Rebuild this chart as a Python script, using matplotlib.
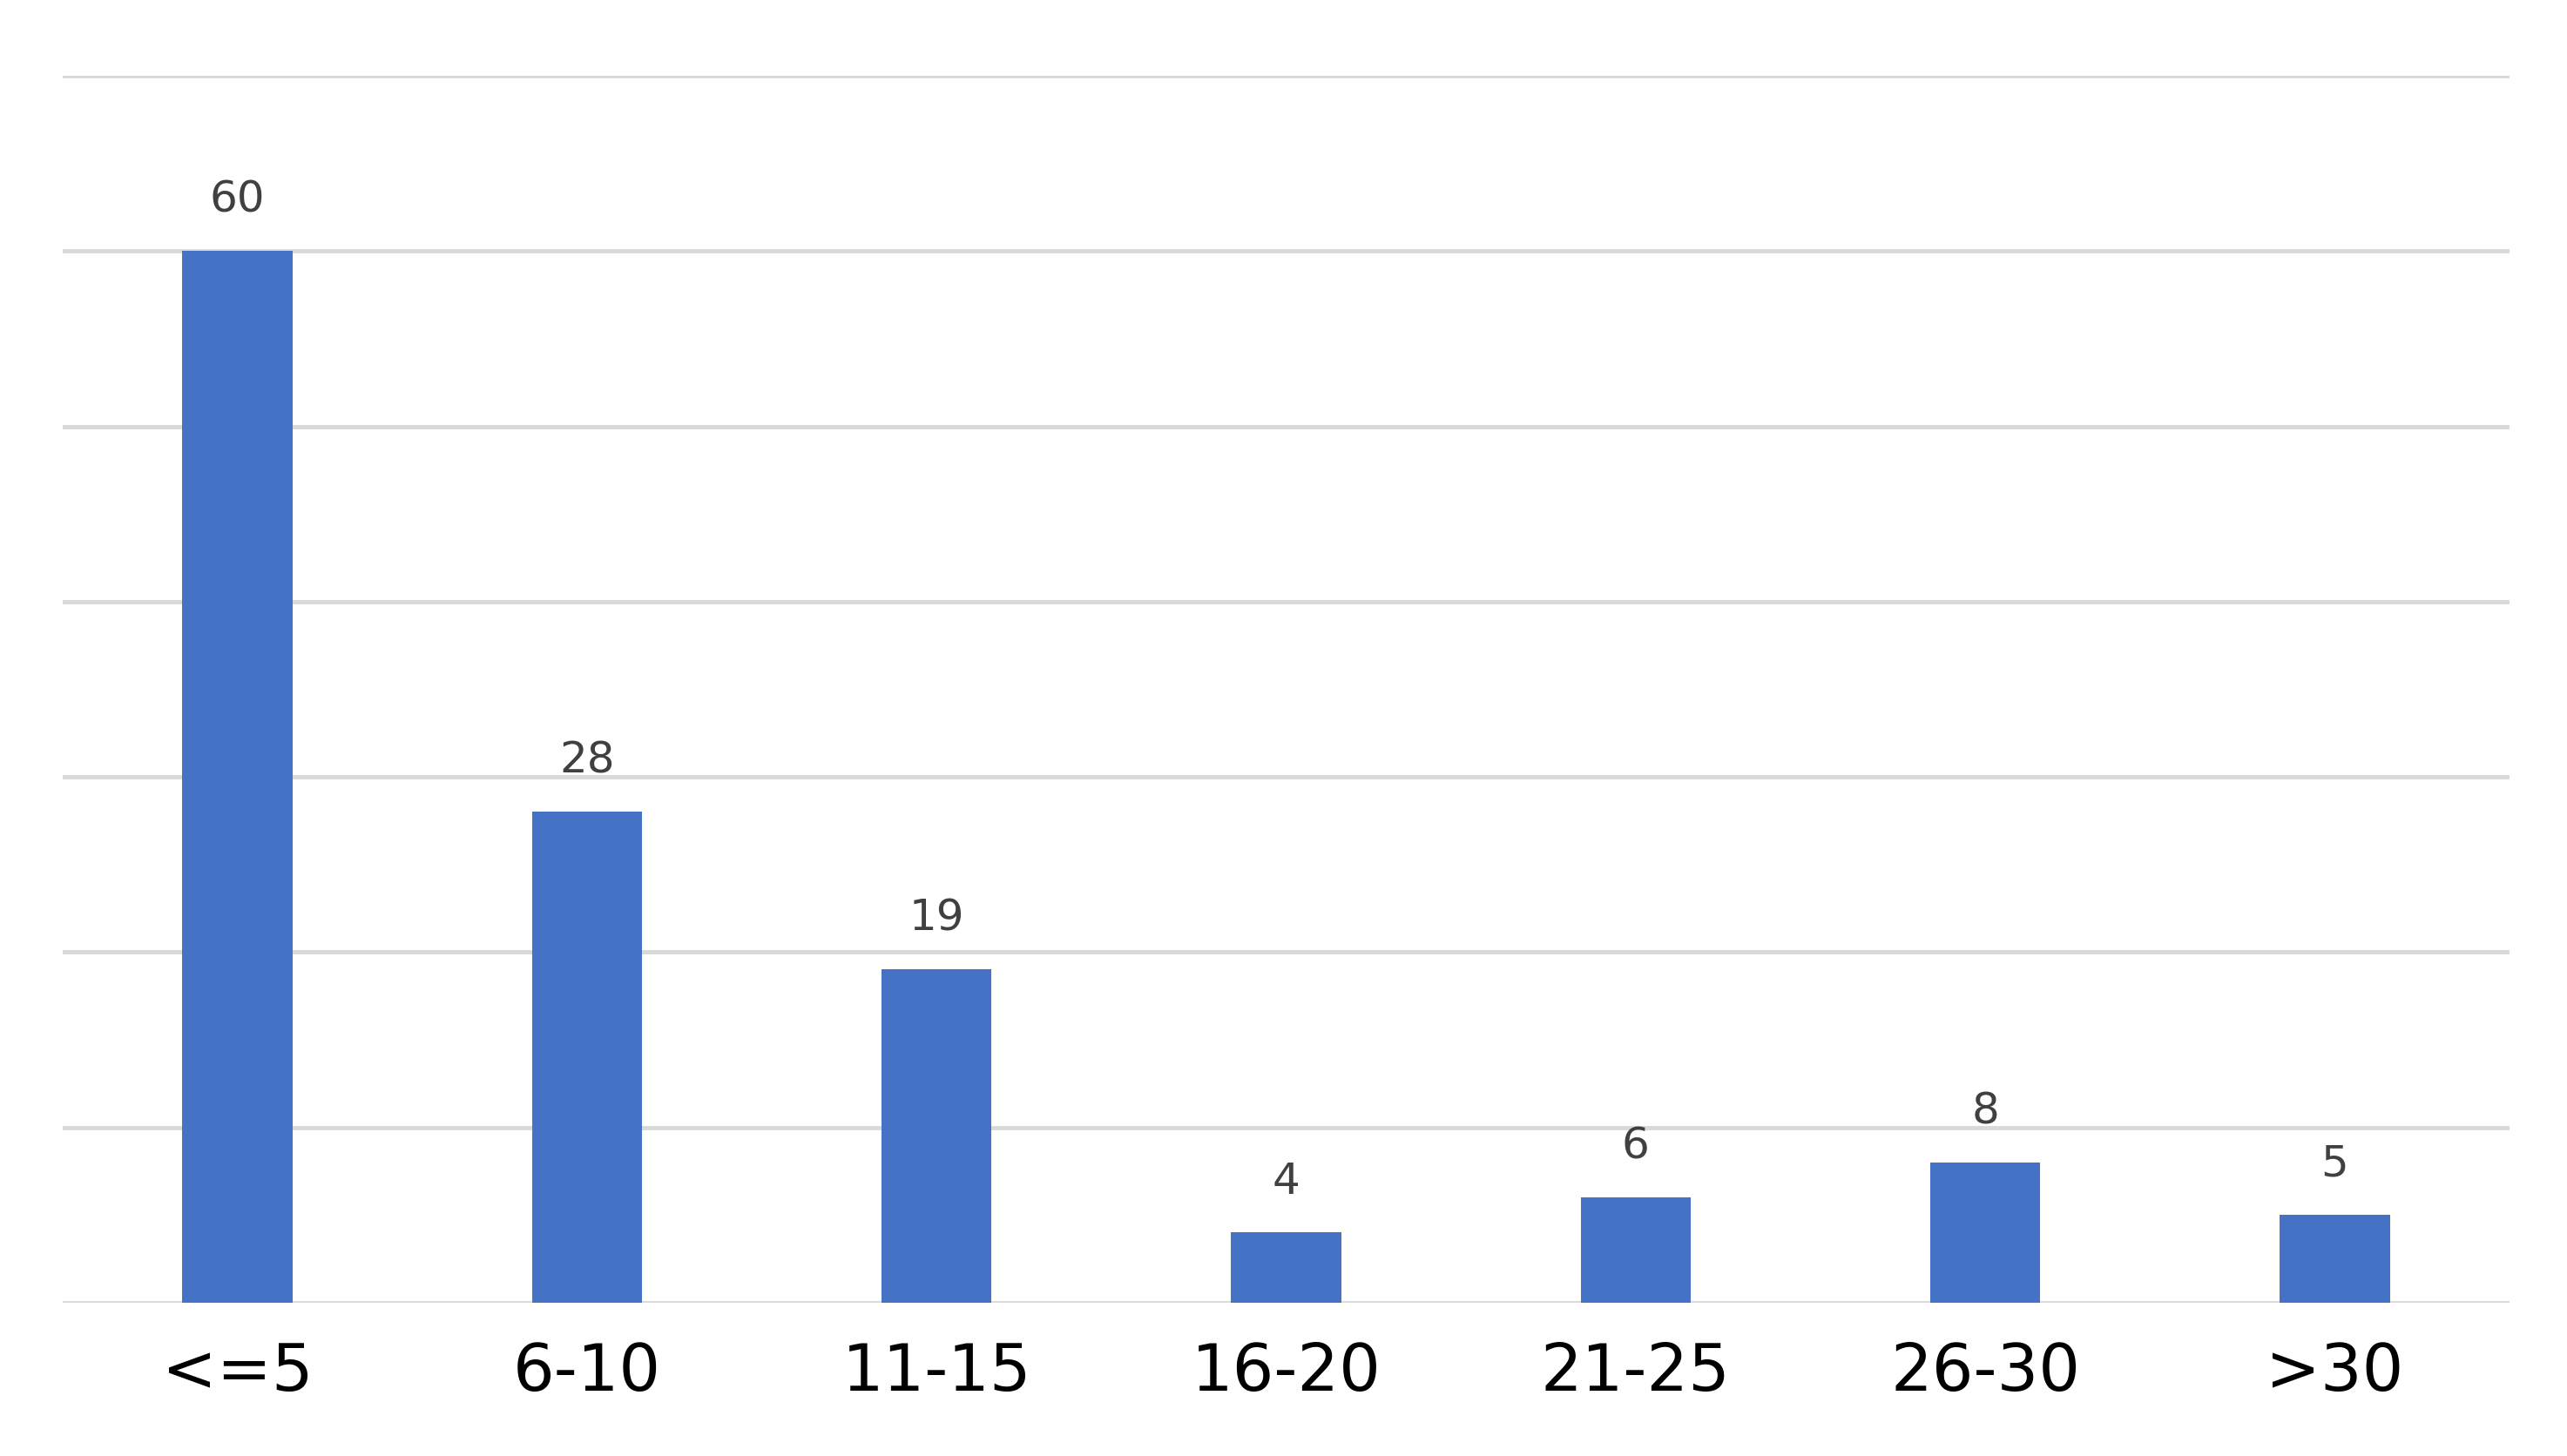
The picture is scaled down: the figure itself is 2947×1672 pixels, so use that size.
import matplotlib
matplotlib.use("Agg")
import matplotlib.pyplot as plt

categories = ["<=5", "6-10", "11-15", "16-20", "21-25", "26-30", ">30"]
values = [60, 28, 19, 4, 6, 8, 5]

fig = plt.figure(figsize=(29.47, 16.72), dpi=100)
ax = fig.add_axes([0.0244, 0.1053, 0.9532, 0.8427])
x = range(len(categories))
bars = ax.bar(x, values, width=0.315, color="#4472C4", zorder=3)
ax.set_xlim(-0.5, len(categories) - 0.5)
ax.set_ylim(0, 70)
ax.set_yticks(range(0, 71, 10))
ax.yaxis.grid(True, color="#D9D9D9", linewidth=3.5, zorder=0)
ax.tick_params(axis="y", left=False, labelleft=False)
ax.tick_params(axis="x", bottom=False, labelsize=54, pad=28, colors="black")
ax.set_xticks(list(x))
ax.set_xticklabels(categories)
for s in ax.spines.values():
    s.set_visible(False)
for b, v in zip(bars, values):
    ax.annotate(str(v), (b.get_x() + b.get_width() / 2, v), xytext=(0, 25),
                textcoords="offset points", ha="center", va="bottom",
                fontsize=36, color="#404040")
fig.savefig("out.png", dpi=100)
